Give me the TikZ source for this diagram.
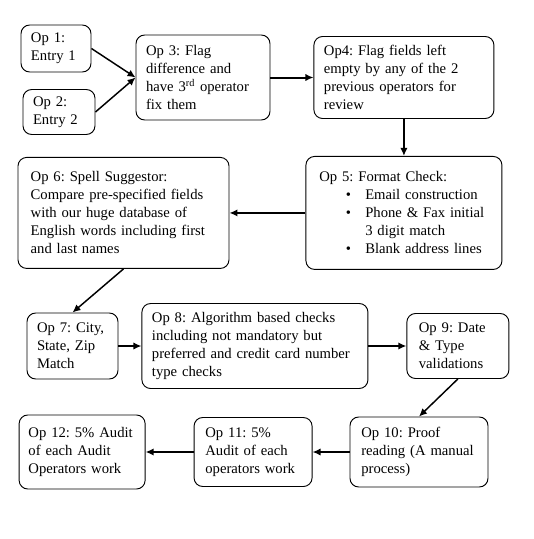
\documentclass[tikz,border=0pt]{standalone}
\usepackage{fontspec}
\setmainfont{Liberation Serif}
\usetikzlibrary{arrows.meta,positioning}

\newcommand{\opitem}[1]{\makebox[34.5pt][l]{\hspace{20pt}\textbullet}#1}

\tikzset{
  opbox/.style={draw, rounded corners=6.5pt, line width=0.7pt, align=left,
    inner xsep=7.5pt, inner ysep=0pt,
    font=\fontsize{11pt}{13.5pt}\selectfont\frenchspacing},
  flow/.style={-{Latex[length=6pt,width=5.5pt]}, line width=1.5pt},
  slant/.style={flow, line width=1.1pt}
}

\begin{document}
\begin{tikzpicture}[x=0.75pt,y=-0.75pt]
  \useasboundingbox (0,0) rectangle (533,539);

  % first row
  \node[opbox, text width=37.5pt, minimum height=35.25pt] (op1) at (56,48.5) {Op 1:\\Entry 1};
  \node[opbox, text width=39pt, minimum height=33.75pt] (op2) at (59,112) {Op 2:\\Entry 2};
  \node[opbox, text width=85.5pt, minimum height=63.75pt] (op3) at (203,77.5)
    {Op 3: Flag\\difference and\\have 3\textsuperscript{rd} operator\\fix them};
  \node[opbox, text width=120pt, minimum height=61.5pt] (op4) [right=32.25pt of op3]
    {Op4: Flag fields left\\empty by any of the 2\\previous operators for\\review};

  % second row
  \node[opbox, inner xsep=10pt, text width=127pt, minimum height=84.75pt] (op5) [below=27.75pt of op4]
    {Op 5: Format Check:\\
     \opitem{Email construction}\\
     \opitem{Phone \& Fax initial}\\
     \hspace*{34.5pt}3 digit match\\
     \opitem{Blank address lines}};
  \node[opbox, inner xsep=9.5pt, text width=139.25pt, minimum height=83.25pt] (op6) [left=57pt of op5]
    {Op 6: Spell Suggestor:\\Compare pre-specified fields\\with our huge database of\\English words including first\\and last names};

  % third row
  \node[opbox, text width=53.25pt, minimum height=49.5pt] (op7) at (72.5,346)
    {Op 7: City,\\State, Zip\\Match};
  \node[opbox, text width=154.5pt, minimum height=63.75pt] (op8) [right=17.25pt of op7]
    {Op 8: Algorithm based checks\\including not mandatory but\\preferred and credit card number\\type checks};
  \node[opbox, inner xsep=9pt, text width=58.5pt, minimum height=48.75pt] (op9) [right=28.5pt of op8]
    {Op 9: Date\\\& Type\\validations};

  % last row
  \node[opbox, inner xsep=8.5pt, text width=86.5pt, minimum height=52.5pt] (op10) at (419,452)
    {Op 10: Proof\\reading (A manual\\process)};
  \node[opbox, inner xsep=8.5pt, text width=71.5pt, minimum height=51.75pt] (op11) [left=27.75pt of op10]
    {Op 11: 5\%\\Audit of each\\operators work};
  \node[opbox, inner xsep=7pt, text width=80.5pt, minimum height=55.5pt] (op12) [left=36pt of op11]
    {Op 12: 5\% Audit\\of each Audit\\Operators work};

  % arrows from op to op
  \draw[slant] (op1.east) -- (op3.west);
  \draw[slant] (op2.east) -- (op3.west);
  \draw[flow] (op3) -- (op4);
  \draw[flow] (op4.south) -- (op4.south |- op5.north);
  \draw[flow] (op5) -- (op6);
  \draw[slant] (op6.south) -- (op7.north);
  \draw[flow] (op7) -- (op8);
  \draw[flow] (op8) -- (op9);
  \draw[slant] (op9.south) -- (op10.north);
  \draw[flow] (op10) -- (op11);
  \draw[flow] (op11) -- (op12);
\end{tikzpicture}
\end{document}
